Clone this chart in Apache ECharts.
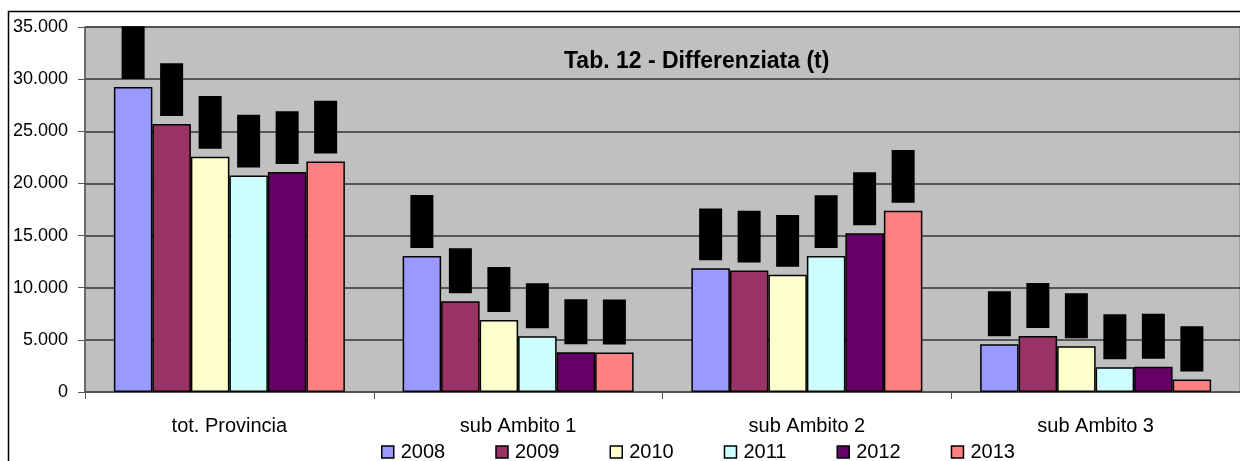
<!DOCTYPE html>
<html>
<head>
<meta charset="utf-8">
<script src="https://cdn.jsdelivr.net/npm/echarts@6/dist/echarts.min.js"></script>
<style>
  html, body { margin: 0; padding: 0; background: #fff; }
  #chart { width: 1240px; height: 461px; }
</style>
</head>
<body>
<div id="chart"></div>
<script>
// categorie e valori (t)
const categories = ['tot. Provincia', 'sub Ambito 1', 'sub Ambito 2', 'sub Ambito 3']
const years = ['2008', '2009', '2010', '2011', '2012', '2013']
const v2008 = [29250, 13050, 11870, 4570]
const v2009 = [25700, 8700, 11650, 5370]
const v2010 = [22550, 6900, 11250, 4380]
const v2011 = [20750, 5350, 13040, 2370]
const v2012 = [21100, 3800, 15230, 2420]
const v2013 = [22100, 3780, 17370, 1210]
const yTicks = [0, 5000, 10000, 15000, 20000, 25000, 30000, 35000]

const values = [v2008, v2009, v2010, v2011, v2012, v2013]
const colors = ['#9999FF', '#993366', '#FFFFCC', '#CCFFFF', '#660066', '#FF8080']

function fmt(n) {
  return String(n).replace(/\B(?=(\d{3})+(?!\d))/g, '.')
}

const chart = echarts.init(document.getElementById('chart'))
chart.setOption({
  animation: false,
  textStyle: { fontFamily: 'Liberation Sans, Arial, sans-serif', color: '#000' },
  title: {
    text: 'Tab. 12 - Differenziata (t)',
    left: 559,
    top: 45,
    textStyle: { fontSize: 23, fontWeight: 'bold', color: '#000', fontFamily: 'Liberation Sans, Arial, sans-serif' }
  },
  legend: {
    data: years,
    left: 376,
    top: 437,
    itemWidth: 12,
    itemHeight: 12,
    itemGap: 50,
    icon: 'rect',
    textStyle: { fontSize: 20, color: '#000', padding: [0, 0, 0, 2] },
    itemStyle: { borderColor: '#000', borderWidth: 1.5 }
  },
  graphic: [{
    type: 'rect',
    shape: { x: 8.5, y: 11.5, width: 1400, height: 600 },
    style: { fill: 'none', stroke: '#000', lineWidth: 1.5 },
    z: -10
  }],
  grid: {
    left: 85,
    top: 27,
    width: 1160,
    height: 365,
    show: true,
    backgroundColor: '#C0C0C0',
    borderColor: '#808080',
    borderWidth: 1
  },
  xAxis: {
    type: 'category',
    data: categories,
    axisLine: { lineStyle: { color: '#555', width: 1.5 } },
    axisTick: { show: true, length: 7, lineStyle: { color: '#555' } },
    axisLabel: { fontSize: 20, color: '#000', margin: 24 }
  },
  yAxis: {
    type: 'value',
    min: 0,
    max: 35000,
    interval: 5000,
    axisLine: { show: true, lineStyle: { color: '#555', width: 1.5 } },
    axisTick: { show: true, length: 7, lineStyle: { color: '#555' } },
    axisLabel: {
      fontSize: 18,
      color: '#000',
      margin: 17,
      formatter: v => yTicks.indexOf(v) >= 0 ? fmt(v) : ''
    },
    splitLine: { lineStyle: { color: '#333', width: 1.5 } }
  },
  series: years.map((y, i) => ({
    name: y,
    type: 'bar',
    data: values[i],
    barGap: '0%',
    barCategoryGap: '20%',
    itemStyle: { color: colors[i], borderColor: '#000', borderWidth: 1.5 },
    label: {
      show: true,
      position: 'top',
      distance: 8,
      rotate: 90,
      align: 'left',
      verticalAlign: 'middle',
      formatter: p => fmt(p.value),
      fontSize: 14,
      lineHeight: 17,
      color: '#000',
      backgroundColor: '#000',
      padding: [3, 5]
    }
  }))
})
</script>
</body>
</html>
